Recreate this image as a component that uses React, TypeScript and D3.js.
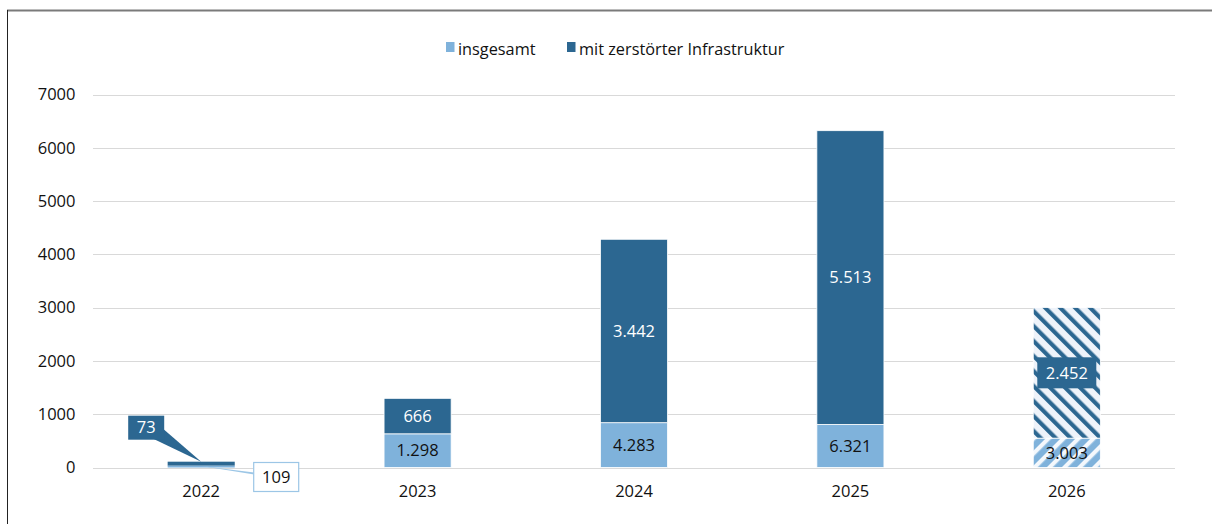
import React from 'react';
import * as d3 from 'd3';

const years = ['2022', '2023', '2024', '2025', '2026'];
const totalValues = [109, 1298, 4283, 6321, 3003];
const destroyedValues = [73, 666, 3442, 5513, 2452];
const yTicks = [0, 1000, 2000, 3000, 4000, 5000, 6000, 7000];
const legendLabels = ['insgesamt', 'mit zerstörter Infrastruktur'];
const forecastYear = '2026';

const W = 1212;
const H = 524;
const DARK = '#2c6791';
const LIGHT = '#7fb2db';
const FONT = '"Open Sans", sans-serif';

const fmt = (v: number) => d3.format(',')(v).replace(/,/g, '.');

export default function App() {
  const rows = years.map((y, i) => ({
    year: y,
    rest: totalValues[i] - destroyedValues[i],
    destroyed: destroyedValues[i],
    total: totalValues[i],
  }));
  const stack = d3.stack<any>().keys(['rest', 'destroyed']);
  const series = stack(rows);

  const x = d3.scaleBand<string>().domain(years).range([93, 1175]).padding(0);
  const y = d3.scaleLinear().domain([0, 7000]).range([467.5, 94.5]);
  const bw = x.step() * 0.31;
  const cx = (yr: string) => (x(yr) as number) + x.step() / 2;

  return (
    <svg width={W} height={H} style={{ position: 'absolute', left: 0, top: 0, background: '#fff' }} fontFamily={FONT}>
      <defs>
        <pattern id="hatchDark" patternUnits="userSpaceOnUse" width={10.6} height={10.6} patternTransform="rotate(-45)">
          <rect width={10.6} height={10.6} fill="#eef3fa" />
          <rect width={4.2} height={10.6} fill={DARK} />
        </pattern>
        <pattern id="hatchLight" patternUnits="userSpaceOnUse" width={10.6} height={10.6} patternTransform="rotate(45)">
          <rect width={10.6} height={10.6} fill={LIGHT} />
          <rect width={4.2} height={10.6} fill="#f4f8fc" />
        </pattern>
      </defs>
      <rect x={0} y={0} width={W} height={H} fill="#fff" />
      {/* frame */}
      <line x1={7} x2={W} y1={10.5} y2={10.5} stroke="#7a7a7a" strokeWidth={2} />
      <line x1={7.5} x2={7.5} y1={10} y2={H} stroke="#222" strokeWidth={1} />

      {/* legend */}
      <g fontSize={16.3} fill="#111">
        <rect x={446} y={42} width={8.5} height={10} fill={LIGHT} />
        <text x={458} y={55}>{legendLabels[0]}</text>
        <rect x={567} y={42} width={8.5} height={10} fill={DARK} />
        <text x={579} y={55}>{legendLabels[1]}</text>
      </g>

      {/* grid + y labels */}
      {yTicks.map((t) => (
        <g key={t}>
          <line x1={93} x2={1175} y1={Math.round(y(t)) + 0.5} y2={Math.round(y(t)) + 0.5} stroke="#d9d9d9" strokeWidth={1.2} />
          <text x={75.5} y={y(t)} dy="0.35em" textAnchor="end" fontSize={16.5} fill="#111">{t}</text>
        </g>
      ))}

      {/* x labels */}
      {years.map((yr) => (
        <text key={yr} x={cx(yr)} y={497} textAnchor="middle" fontSize={16.5} fill="#111">{yr}</text>
      ))}

      {/* bars */}
      {series.map((s) => (
        <g key={s.key}>
          {s.map((d) => {
            const yr = d.data.year;
            const isF = yr === forecastYear;
            const fill = s.key === 'rest'
              ? (isF ? 'url(#hatchLight)' : LIGHT)
              : (isF ? 'url(#hatchDark)' : DARK);
            return (
              <rect key={yr} x={cx(yr) - bw / 2} y={y(d[1])} width={bw} height={y(d[0]) - y(d[1])}
                fill={fill} stroke={yr === '2022' ? 'none' : '#fff'} strokeWidth={0.8} />
            );
          })}
        </g>
      ))}

      {/* labels */}
      {rows.map((r) => {
        const c = cx(r.year);
        if (r.year === '2022') {
          const top = y(r.total);
          const base = y(0);
          return (
            <g key={r.year}>
              <polygon points={`${c - 48},${top - 23} ${c - 37},${top - 32} ${c},${top}`} fill={DARK} />
              <rect x={c - 73} y={top - 46} width={36} height={24} fill={DARK} />
              <text x={c - 55} y={top - 34} dy="0.35em" textAnchor="middle" fontSize={16.5} fill="#fff">{fmt(r.destroyed)}</text>
              <polygon points={`${c},${base - 1.5} ${c + 53},${base + 5} ${c + 53},${base + 7}`} fill="#9cc6e6" />
              <rect x={c + 52.5} y={base - 5} width={45} height={29} fill="#fff" stroke="#9cc6e6" strokeWidth={1.2} />
              <text x={c + 75} y={base + 9.5} dy="0.35em" textAnchor="middle" fontSize={16.5} fill="#111">{fmt(r.total)}</text>
            </g>
          );
        }
        const lightMid = (y(0) + y(r.rest)) / 2;
        const darkMid = (y(r.rest) + y(r.total)) / 2;
        const isF = r.year === forecastYear;
        return (
          <g key={r.year}>
            {isF && <rect x={c - 29.5} y={darkMid - 15.5} width={59} height={31} fill={DARK} />}
            <text x={c} y={darkMid} dy="0.35em" textAnchor="middle" fontSize={16.5} fill="#fff">{fmt(r.destroyed)}</text>
            <text x={c} y={lightMid} dy="0.35em" textAnchor="middle" fontSize={16.5} fill="#111">{fmt(r.total)}</text>
          </g>
        );
      })}
    </svg>
  );
}
